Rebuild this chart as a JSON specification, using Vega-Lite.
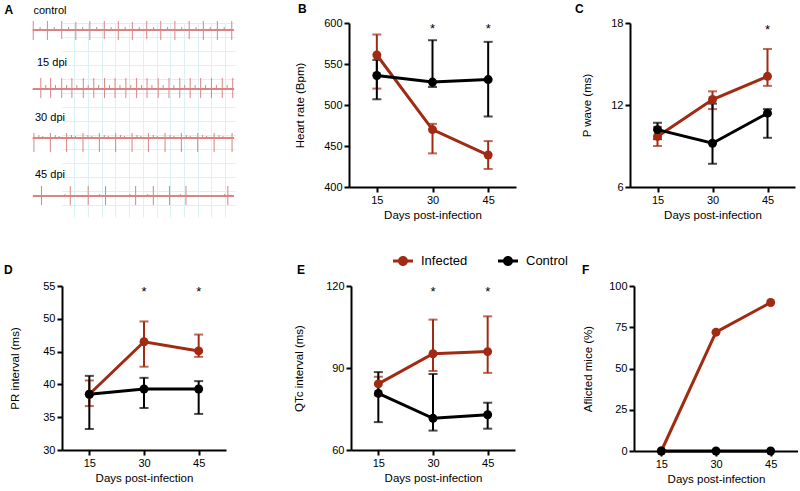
{
  "$schema": "https://vega.github.io/schema/vega-lite/v6.json",
  "padding": {"left": 4, "top": 3, "right": 0, "bottom": 0},
  "background": "white",
  "config": {
    "font": "Liberation Sans",
    "view": {"stroke": null},
    "axis": {"labelFontSize": 11, "titleFontSize": 11.5, "titleFontWeight": "normal", "labelColor": "black", "titleColor": "black", "domainColor": "black", "tickColor": "black", "domainWidth": 2, "tickWidth": 2, "tickSize": 5, "grid": false, "labelPadding": 2, "labelFlush": false, "labelOverlap": false},
    "axisX": {"titlePadding": 4},
    "title": {"fontSize": 12, "fontWeight": "bold", "anchor": "start", "frame": "group", "color": "black", "font": "Liberation Sans"}
  },
  "datasets": {
    "stats": [
      {"panel": "B", "group": "Infected", "day": 15, "mean": 561, "lo": 520, "hi": 586},
      {"panel": "B", "group": "Infected", "day": 30, "mean": 470, "lo": 441, "hi": 477},
      {"panel": "B", "group": "Infected", "day": 45, "mean": 439, "lo": 422, "hi": 456},
      {"panel": "B", "group": "Control", "day": 15, "mean": 536, "lo": 507, "hi": 555},
      {"panel": "B", "group": "Control", "day": 30, "mean": 528, "lo": 522, "hi": 579},
      {"panel": "B", "group": "Control", "day": 45, "mean": 531, "lo": 486, "hi": 577},
      {"panel": "C", "group": "Infected", "day": 15, "mean": 9.7, "lo": 9.0, "hi": 10.4},
      {"panel": "C", "group": "Infected", "day": 30, "mean": 12.4, "lo": 11.7, "hi": 13.0},
      {"panel": "C", "group": "Infected", "day": 45, "mean": 14.1, "lo": 13.4, "hi": 16.1},
      {"panel": "C", "group": "Control", "day": 15, "mean": 10.2, "lo": 9.5, "hi": 10.7},
      {"panel": "C", "group": "Control", "day": 30, "mean": 9.2, "lo": 7.7, "hi": 12.1},
      {"panel": "C", "group": "Control", "day": 45, "mean": 11.4, "lo": 9.6, "hi": 11.7},
      {"panel": "D", "group": "Infected", "day": 15, "mean": 38.5, "lo": 36.7, "hi": 40.6},
      {"panel": "D", "group": "Infected", "day": 30, "mean": 46.5, "lo": 42.7, "hi": 49.6},
      {"panel": "D", "group": "Infected", "day": 45, "mean": 45.1, "lo": 44.2, "hi": 47.6},
      {"panel": "D", "group": "Control", "day": 15, "mean": 38.5, "lo": 33.2, "hi": 41.3},
      {"panel": "D", "group": "Control", "day": 30, "mean": 39.3, "lo": 36.4, "hi": 41.0},
      {"panel": "D", "group": "Control", "day": 45, "mean": 39.3, "lo": 35.5, "hi": 40.5},
      {"panel": "E", "group": "Infected", "day": 15, "mean": 84.2, "lo": 80.0, "hi": 86.8},
      {"panel": "E", "group": "Infected", "day": 30, "mean": 95.2, "lo": 88.9, "hi": 107.7},
      {"panel": "E", "group": "Infected", "day": 45, "mean": 96.0, "lo": 88.2, "hi": 108.9},
      {"panel": "E", "group": "Control", "day": 15, "mean": 80.7, "lo": 70.2, "hi": 88.5},
      {"panel": "E", "group": "Control", "day": 30, "mean": 71.6, "lo": 67.1, "hi": 87.8},
      {"panel": "E", "group": "Control", "day": 45, "mean": 72.9, "lo": 67.8, "hi": 77.3},
      {"panel": "F", "group": "Infected", "day": 15, "mean": 0},
      {"panel": "F", "group": "Infected", "day": 30, "mean": 72},
      {"panel": "F", "group": "Infected", "day": 45, "mean": 90},
      {"panel": "F", "group": "Control", "day": 15, "mean": 0},
      {"panel": "F", "group": "Control", "day": 30, "mean": 0},
      {"panel": "F", "group": "Control", "day": 45, "mean": 0}
    ],
    "sig": [
      {"panel": "B", "day": 30, "y": 598},
      {"panel": "B", "day": 45, "y": 598},
      {"panel": "C", "day": 45, "y": 17.8},
      {"panel": "D", "day": 30, "y": 54.7},
      {"panel": "D", "day": 45, "y": 54.7},
      {"panel": "E", "day": 30, "y": 119.3},
      {"panel": "E", "day": 45, "y": 119.3}
    ],
    "ecg": [
      {"trace": "control", "t": 0.3, "lo": -10, "hi": 9}, {"trace": "control", "t": 7.3, "lo": 0, "hi": 3},
      {"trace": "control", "t": 14.7, "lo": -10, "hi": 9}, {"trace": "control", "t": 21.7, "lo": 0, "hi": 3},
      {"trace": "control", "t": 29.3, "lo": -9, "hi": 9}, {"trace": "control", "t": 36.3, "lo": 0, "hi": 3},
      {"trace": "control", "t": 43.7, "lo": -10, "hi": 8}, {"trace": "control", "t": 50.7, "lo": 0, "hi": 3},
      {"trace": "control", "t": 58, "lo": -10, "hi": 9}, {"trace": "control", "t": 65, "lo": 0, "hi": 3},
      {"trace": "control", "t": 72.7, "lo": -9, "hi": 9}, {"trace": "control", "t": 79.7, "lo": 0, "hi": 3},
      {"trace": "control", "t": 87, "lo": -10, "hi": 9}, {"trace": "control", "t": 94, "lo": 0, "hi": 3},
      {"trace": "control", "t": 101.3, "lo": -10, "hi": 8}, {"trace": "control", "t": 108.3, "lo": 0, "hi": 3},
      {"trace": "control", "t": 116, "lo": -9, "hi": 9}, {"trace": "control", "t": 123, "lo": 0, "hi": 3},
      {"trace": "control", "t": 130.3, "lo": -10, "hi": 9}, {"trace": "control", "t": 137.3, "lo": 0, "hi": 3},
      {"trace": "control", "t": 144.7, "lo": -10, "hi": 9}, {"trace": "control", "t": 151.7, "lo": 0, "hi": 3},
      {"trace": "control", "t": 159.3, "lo": -9, "hi": 9}, {"trace": "control", "t": 166.3, "lo": 0, "hi": 3},
      {"trace": "control", "t": 173.7, "lo": -10, "hi": 9}, {"trace": "control", "t": 180.7, "lo": 0, "hi": 3},
      {"trace": "control", "t": 188, "lo": -10, "hi": 9}, {"trace": "control", "t": 195, "lo": 0, "hi": 3},
      {"trace": "control", "t": 202.7, "lo": -10, "hi": 9},
      {"trace": "15 dpi", "t": 8, "lo": -9, "hi": 11}, {"trace": "15 dpi", "t": 13, "lo": 0, "hi": 4},
      {"trace": "15 dpi", "t": 18, "lo": -9, "hi": 11}, {"trace": "15 dpi", "t": 23, "lo": 0, "hi": 4},
      {"trace": "15 dpi", "t": 29.3, "lo": -9, "hi": 11}, {"trace": "15 dpi", "t": 34.3, "lo": 0, "hi": 4},
      {"trace": "15 dpi", "t": 39.7, "lo": -9, "hi": 11}, {"trace": "15 dpi", "t": 44.7, "lo": 0, "hi": 4},
      {"trace": "15 dpi", "t": 51.3, "lo": -9, "hi": 11}, {"trace": "15 dpi", "t": 56.3, "lo": 0, "hi": 4},
      {"trace": "15 dpi", "t": 62, "lo": -9, "hi": 11}, {"trace": "15 dpi", "t": 67, "lo": 0, "hi": 4},
      {"trace": "15 dpi", "t": 73, "lo": -9, "hi": 11}, {"trace": "15 dpi", "t": 78, "lo": 0, "hi": 4},
      {"trace": "15 dpi", "t": 83.7, "lo": -9, "hi": 11}, {"trace": "15 dpi", "t": 88.7, "lo": 0, "hi": 4},
      {"trace": "15 dpi", "t": 94.7, "lo": -9, "hi": 11}, {"trace": "15 dpi", "t": 99.7, "lo": 0, "hi": 4},
      {"trace": "15 dpi", "t": 105.7, "lo": -9, "hi": 11}, {"trace": "15 dpi", "t": 110.7, "lo": 0, "hi": 4},
      {"trace": "15 dpi", "t": 116.3, "lo": -9, "hi": 11}, {"trace": "15 dpi", "t": 121.3, "lo": 0, "hi": 4},
      {"trace": "15 dpi", "t": 127.7, "lo": -9, "hi": 11}, {"trace": "15 dpi", "t": 132.7, "lo": 0, "hi": 4},
      {"trace": "15 dpi", "t": 138.7, "lo": -9, "hi": 11}, {"trace": "15 dpi", "t": 143.7, "lo": 0, "hi": 4},
      {"trace": "15 dpi", "t": 149.7, "lo": -9, "hi": 11}, {"trace": "15 dpi", "t": 154.7, "lo": 0, "hi": 4},
      {"trace": "15 dpi", "t": 160.3, "lo": -9, "hi": 11}, {"trace": "15 dpi", "t": 165.3, "lo": 0, "hi": 4},
      {"trace": "15 dpi", "t": 171, "lo": -9, "hi": 11}, {"trace": "15 dpi", "t": 176, "lo": 0, "hi": 4},
      {"trace": "15 dpi", "t": 182, "lo": -9, "hi": 11}, {"trace": "15 dpi", "t": 187, "lo": 0, "hi": 4},
      {"trace": "15 dpi", "t": 193, "lo": -9, "hi": 11}, {"trace": "15 dpi", "t": 198, "lo": 0, "hi": 4},
      {"trace": "15 dpi", "t": 203.7, "lo": -9, "hi": 11},
      {"trace": "30 dpi", "t": 1, "lo": -14, "hi": 5}, {"trace": "30 dpi", "t": 6, "lo": 0, "hi": 3}, {"trace": "30 dpi", "t": 10, "lo": 0, "hi": 2},
      {"trace": "30 dpi", "t": 17.7, "lo": -14, "hi": 5}, {"trace": "30 dpi", "t": 22.7, "lo": 0, "hi": 3}, {"trace": "30 dpi", "t": 26.7, "lo": 0, "hi": 2},
      {"trace": "30 dpi", "t": 34.3, "lo": -14, "hi": 5}, {"trace": "30 dpi", "t": 39.3, "lo": 0, "hi": 3}, {"trace": "30 dpi", "t": 43.3, "lo": 0, "hi": 2},
      {"trace": "30 dpi", "t": 51, "lo": -14, "hi": 5}, {"trace": "30 dpi", "t": 56, "lo": 0, "hi": 3}, {"trace": "30 dpi", "t": 60, "lo": 0, "hi": 2},
      {"trace": "30 dpi", "t": 67.7, "lo": -14, "hi": 5}, {"trace": "30 dpi", "t": 72.7, "lo": 0, "hi": 3}, {"trace": "30 dpi", "t": 76.7, "lo": 0, "hi": 2},
      {"trace": "30 dpi", "t": 84.3, "lo": -14, "hi": 5}, {"trace": "30 dpi", "t": 89.3, "lo": 0, "hi": 3}, {"trace": "30 dpi", "t": 93.3, "lo": 0, "hi": 2},
      {"trace": "30 dpi", "t": 101, "lo": -14, "hi": 5}, {"trace": "30 dpi", "t": 106, "lo": 0, "hi": 3}, {"trace": "30 dpi", "t": 110, "lo": 0, "hi": 2},
      {"trace": "30 dpi", "t": 117.7, "lo": -14, "hi": 5}, {"trace": "30 dpi", "t": 122.7, "lo": 0, "hi": 3}, {"trace": "30 dpi", "t": 126.7, "lo": 0, "hi": 2},
      {"trace": "30 dpi", "t": 134.7, "lo": -14, "hi": 5}, {"trace": "30 dpi", "t": 139.7, "lo": 0, "hi": 3}, {"trace": "30 dpi", "t": 143.7, "lo": 0, "hi": 2},
      {"trace": "30 dpi", "t": 151.3, "lo": -14, "hi": 5}, {"trace": "30 dpi", "t": 156.3, "lo": 0, "hi": 3}, {"trace": "30 dpi", "t": 160.3, "lo": 0, "hi": 2},
      {"trace": "30 dpi", "t": 168, "lo": -14, "hi": 5}, {"trace": "30 dpi", "t": 173, "lo": 0, "hi": 3}, {"trace": "30 dpi", "t": 177, "lo": 0, "hi": 2},
      {"trace": "30 dpi", "t": 184.7, "lo": -14, "hi": 5}, {"trace": "30 dpi", "t": 189.7, "lo": 0, "hi": 3}, {"trace": "30 dpi", "t": 193.7, "lo": 0, "hi": 2},
      {"trace": "30 dpi", "t": 203, "lo": -14, "hi": 5},
      {"trace": "45 dpi", "t": 8.7, "lo": -9, "hi": 10},
      {"trace": "45 dpi", "t": 32.7, "lo": 0, "hi": 2},
      {"trace": "45 dpi", "t": 38, "lo": -9, "hi": 10},
      {"trace": "45 dpi", "t": 56.3, "lo": -9, "hi": 10},
      {"trace": "45 dpi", "t": 68, "lo": 0, "hi": 2},
      {"trace": "45 dpi", "t": 74, "lo": -9, "hi": 10},
      {"trace": "45 dpi", "t": 98.7, "lo": 0, "hi": 2},
      {"trace": "45 dpi", "t": 104.7, "lo": -9, "hi": 10},
      {"trace": "45 dpi", "t": 117, "lo": 0, "hi": 2},
      {"trace": "45 dpi", "t": 122.7, "lo": -9, "hi": 10},
      {"trace": "45 dpi", "t": 139.3, "lo": -9, "hi": 10},
      {"trace": "45 dpi", "t": 150.3, "lo": 0, "hi": 2},
      {"trace": "45 dpi", "t": 156, "lo": -9, "hi": 10},
      {"trace": "45 dpi", "t": 195.3, "lo": 0, "hi": 2},
      {"trace": "45 dpi", "t": 198.7, "lo": -9, "hi": 10}
    ]
  },
  "columns": 1,
  "align": "none",
  "bounds": "full",
  "spacing": 43,
  "concat": [
    {
      "bounds": "full",
      "spacing": 59,
      "hconcat": [
        {
          "bounds": "flush",
          "spacing": 0,
          "vconcat": [
            {
              "width": 173, "height": 37,
              "data": {"name": "ecg"},
              "transform": [{"filter": "datum.trace == 'control'"}],
              "layer": [
                {"mark": {"type": "rule", "color": "#d98484", "strokeWidth": 1}, "encoding": {"x": {"datum": 0, "type": "quantitative"}, "x2": {"datum": 205}, "y": {"datum": 0, "type": "quantitative"}}},
                {"mark": {"type": "rule", "color": "#d98484", "strokeWidth": 1},
                 "encoding": {
                   "x": {"field": "t", "type": "quantitative", "scale": {"domain": [29.6, 206], "nice": false, "zero": false}, "axis": {"orient": "top", "values": [42, 56, 70, 84, 98, 112, 126, 140, 154, 168, 182, 196], "tickCount": 40, "grid": true, "gridColor": "#dcf1f3", "domain": false, "ticks": false, "labels": false, "title": "control", "titleX": -29, "titleY": -10, "titleAlign": "left", "titleBaseline": "alphabetic", "titleFontSize": 11, "titlePadding": 0}},
                   "y": {"field": "lo", "type": "quantitative", "scale": {"domain": [-30, 7], "nice": false, "zero": false}, "axis": {"values": [7, -7, -21], "tickCount": 20, "grid": true, "gridColor": "#dcf1f3", "domain": false, "ticks": false, "labels": false, "title": "A", "titleAngle": 0, "titleX": -58, "titleY": -10, "titleAlign": "left", "titleBaseline": "alphabetic", "titleFontWeight": "bold", "titleFontSize": 12, "titlePadding": 0}},
                   "y2": {"field": "hi"}
                 }}
              ]
            },
            {
              "width": 173, "height": 53,
              "title": {"text": "15 dpi", "fontSize": 11, "fontWeight": "normal", "offset": -8, "dx": -25},
              "data": {"name": "ecg"},
              "transform": [{"filter": "datum.trace == '15 dpi'"}],
              "layer": [
                {"mark": {"type": "rule", "color": "#d98484", "strokeWidth": 1}, "encoding": {"x": {"datum": 0, "type": "quantitative"}, "x2": {"datum": 205}, "y": {"datum": 0, "type": "quantitative"}}},
                {"mark": {"type": "rule", "color": "#d98484", "strokeWidth": 1},
                 "encoding": {
                   "x": {"field": "t", "type": "quantitative", "scale": {"domain": [29.6, 206], "nice": false, "zero": false}, "axis": {"values": [42, 56, 70, 84, 98, 112, 126, 140, 154, 168, 182, 196], "tickCount": 40, "grid": true, "gridColor": "#dcf1f3", "domain": false, "ticks": false, "labels": false, "title": null}},
                   "y": {"field": "lo", "type": "quantitative", "scale": {"domain": [-24, 29], "nice": false, "zero": false}, "axis": {"values": [24, 10, -4, -18], "tickCount": 20, "grid": true, "gridColor": "#dcf1f3", "domain": false, "ticks": false, "labels": false, "title": null}},
                   "y2": {"field": "hi"}
                 }}
              ]
            },
            {
              "width": 173, "height": 55,
              "title": {"text": "30 dpi", "fontSize": 11, "fontWeight": "normal", "offset": -10, "dx": -27},
              "data": {"name": "ecg"},
              "transform": [{"filter": "datum.trace == '30 dpi'"}],
              "layer": [
                {"mark": {"type": "rule", "color": "#d98484", "strokeWidth": 1}, "encoding": {"x": {"datum": 0, "type": "quantitative"}, "x2": {"datum": 205}, "y": {"datum": 0, "type": "quantitative"}}},
                {"mark": {"type": "rule", "color": "#d98484", "strokeWidth": 1},
                 "encoding": {
                   "x": {"field": "t", "type": "quantitative", "scale": {"domain": [29.6, 206], "nice": false, "zero": false}, "axis": {"values": [42, 56, 70, 84, 98, 112, 126, 140, 154, 168, 182, 196], "tickCount": 40, "grid": true, "gridColor": "#dcf1f3", "domain": false, "ticks": false, "labels": false, "title": null}},
                   "y": {"field": "lo", "type": "quantitative", "scale": {"domain": [-30, 25], "nice": false, "zero": false}, "axis": {"values": [17, 3, -11, -25], "tickCount": 20, "grid": true, "gridColor": "#dcf1f3", "domain": false, "ticks": false, "labels": false, "title": null}},
                   "y2": {"field": "hi"}
                 }}
              ]
            },
            {
              "width": 173, "height": 49,
              "title": {"text": "45 dpi", "fontSize": 11, "fontWeight": "normal", "offset": -12, "dx": -27},
              "data": {"name": "ecg"},
              "transform": [{"filter": "datum.trace == '45 dpi'"}],
              "layer": [
                {"mark": {"type": "rule", "color": "#d98484", "strokeWidth": 1}, "encoding": {"x": {"datum": 0, "type": "quantitative"}, "x2": {"datum": 205}, "y": {"datum": 0, "type": "quantitative"}}},
                {"mark": {"type": "rule", "color": "#d98484", "strokeWidth": 1},
                 "encoding": {
                   "x": {"field": "t", "type": "quantitative", "scale": {"domain": [29.6, 206], "nice": false, "zero": false}, "axis": {"values": [42, 56, 70, 84, 98, 112, 126, 140, 154, 168, 182, 196], "tickCount": 40, "grid": true, "gridColor": "#dcf1f3", "domain": false, "ticks": false, "labels": false, "title": null}},
                   "y": {"field": "lo", "type": "quantitative", "scale": {"domain": [-21, 28], "nice": false, "zero": false}, "axis": {"values": [19, 5, -9], "tickCount": 20, "grid": true, "gridColor": "#dcf1f3", "domain": false, "ticks": false, "labels": false, "title": null}},
                   "y2": {"field": "hi"}
                 }}
              ]
            }
          ]
        },
        {
          "width": 167, "height": 164,
          "title": {"text": "B", "dx": -51, "offset": 1},
          "layer": [
            {"data": {"name": "stats"}, "transform": [{"filter": "datum.panel == 'B'"}],
             "mark": {"type": "errorbar", "ticks": {"size": 9, "thickness": 2}, "rule": {"strokeWidth": 2}},
             "encoding": {
               "x": {"field": "day", "type": "quantitative", "scale": {"domain": [7.5, 52.5], "nice": false, "zero": false}, "axis": {"values": [15, 30, 45], "title": "Days post-infection"}},
               "y": {"field": "lo", "type": "quantitative", "scale": {"domain": [400, 600], "nice": false, "zero": false}, "axis": {"values": [400, 450, 500, 550, 600], "titlePadding": 18}, "title": "Heart rate (Bpm)"},
               "y2": {"field": "hi"},
               "color": {"field": "group", "type": "nominal", "scale": {"domain": ["Infected", "Control"], "range": ["#a12b12", "#000000"]}}
             }},
            {"data": {"name": "stats"}, "transform": [{"filter": "datum.panel == 'B'"}],
             "mark": {"type": "line", "strokeWidth": 3},
             "encoding": {
               "x": {"field": "day", "type": "quantitative"},
               "y": {"field": "mean", "type": "quantitative", "axis": {"values": [400, 450, 500, 550, 600], "titlePadding": 18}, "title": "Heart rate (Bpm)"},
               "color": {"field": "group", "type": "nominal"}
             }},
            {"data": {"name": "stats"}, "transform": [{"filter": "datum.panel == 'B'"}],
             "mark": {"type": "point", "filled": true, "size": 80, "opacity": 1},
             "encoding": {
               "x": {"field": "day", "type": "quantitative"},
               "y": {"field": "mean", "type": "quantitative", "axis": {"values": [400, 450, 500, 550, 600], "titlePadding": 18}, "title": "Heart rate (Bpm)"},
               "color": {"field": "group", "type": "nominal"}
             }},
            {"data": {"name": "sig"}, "transform": [{"filter": "datum.panel == 'B'"}],
             "mark": {"type": "text", "text": "*", "fontSize": 13, "dy": 4, "color": "black"},
             "encoding": {
               "x": {"field": "day", "type": "quantitative"},
               "y": {"field": "y", "type": "quantitative", "axis": {"values": [400, 450, 500, 550, 600], "titlePadding": 18}, "title": "Heart rate (Bpm)"}
             }}
          ]
        },
        {
          "width": 165, "height": 164,
          "title": {"text": "C", "dx": -55, "offset": 1},
          "layer": [
            {"data": {"name": "stats"}, "transform": [{"filter": "datum.panel == 'C'"}],
             "mark": {"type": "errorbar", "ticks": {"size": 9, "thickness": 2}, "rule": {"strokeWidth": 2}},
             "encoding": {
               "x": {"field": "day", "type": "quantitative", "scale": {"domain": [7.5, 52.5], "nice": false, "zero": false}, "axis": {"values": [15, 30, 45], "title": "Days post-infection"}},
               "y": {"field": "lo", "type": "quantitative", "scale": {"domain": [6, 18], "nice": false, "zero": false}, "axis": {"values": [6, 12, 18], "titlePadding": 18}, "title": "P wave (ms)"},
               "y2": {"field": "hi"},
               "color": {"field": "group", "type": "nominal"}
             }},
            {"data": {"name": "stats"}, "transform": [{"filter": "datum.panel == 'C'"}],
             "mark": {"type": "line", "strokeWidth": 3},
             "encoding": {
               "x": {"field": "day", "type": "quantitative"},
               "y": {"field": "mean", "type": "quantitative", "axis": {"values": [6, 12, 18], "titlePadding": 18}, "title": "P wave (ms)"},
               "color": {"field": "group", "type": "nominal"}
             }},
            {"data": {"name": "stats"}, "transform": [{"filter": "datum.panel == 'C'"}],
             "mark": {"type": "point", "filled": true, "size": 80, "opacity": 1},
             "encoding": {
               "x": {"field": "day", "type": "quantitative"},
               "y": {"field": "mean", "type": "quantitative", "axis": {"values": [6, 12, 18], "titlePadding": 18}, "title": "P wave (ms)"},
               "color": {"field": "group", "type": "nominal"}
             }},
            {"data": {"name": "sig"}, "transform": [{"filter": "datum.panel == 'C'"}],
             "mark": {"type": "text", "text": "*", "fontSize": 13, "dy": 4, "color": "black"},
             "encoding": {
               "x": {"field": "day", "type": "quantitative"},
               "y": {"field": "y", "type": "quantitative", "axis": {"values": [6, 12, 18], "titlePadding": 18}, "title": "P wave (ms)"}
             }}
          ]
        }
      ]
    },
    {
      "bounds": "full",
      "spacing": 67,
      "hconcat": [
        {
          "width": 164, "height": 164,
          "title": {"text": "D", "dx": -58, "offset": 3},
          "layer": [
            {"data": {"name": "stats"}, "transform": [{"filter": "datum.panel == 'D'"}],
             "mark": {"type": "errorbar", "ticks": {"size": 9, "thickness": 2}, "rule": {"strokeWidth": 2}},
             "encoding": {
               "x": {"field": "day", "type": "quantitative", "scale": {"domain": [7.5, 52.5], "nice": false, "zero": false}, "axis": {"values": [15, 30, 45], "title": "Days post-infection"}},
               "y": {"field": "lo", "type": "quantitative", "scale": {"domain": [30, 55], "nice": false, "zero": false}, "axis": {"values": [30, 35, 40, 45, 50, 55], "titlePadding": 22}, "title": "PR interval (ms)"},
               "y2": {"field": "hi"},
               "color": {"field": "group", "type": "nominal"}
             }},
            {"data": {"name": "stats"}, "transform": [{"filter": "datum.panel == 'D'"}],
             "mark": {"type": "line", "strokeWidth": 3},
             "encoding": {
               "x": {"field": "day", "type": "quantitative"},
               "y": {"field": "mean", "type": "quantitative", "axis": {"values": [30, 35, 40, 45, 50, 55], "titlePadding": 22}, "title": "PR interval (ms)"},
               "color": {"field": "group", "type": "nominal"}
             }},
            {"data": {"name": "stats"}, "transform": [{"filter": "datum.panel == 'D'"}],
             "mark": {"type": "point", "filled": true, "size": 80, "opacity": 1},
             "encoding": {
               "x": {"field": "day", "type": "quantitative"},
               "y": {"field": "mean", "type": "quantitative", "axis": {"values": [30, 35, 40, 45, 50, 55], "titlePadding": 22}, "title": "PR interval (ms)"},
               "color": {"field": "group", "type": "nominal"}
             }},
            {"data": {"name": "sig"}, "transform": [{"filter": "datum.panel == 'D'"}],
             "mark": {"type": "text", "text": "*", "fontSize": 13, "dy": 4, "color": "black"},
             "encoding": {
               "x": {"field": "day", "type": "quantitative"},
               "y": {"field": "y", "type": "quantitative", "axis": {"values": [30, 35, 40, 45, 50, 55], "titlePadding": 22}, "title": "PR interval (ms)"}
             }}
          ]
        },
        {
          "width": 164, "height": 164,
          "title": {"text": "E", "dx": -54, "offset": 3},
          "layer": [
            {"data": {"name": "stats"}, "transform": [{"filter": "datum.panel == 'E'"}],
             "mark": {"type": "errorbar", "ticks": {"size": 9, "thickness": 2}, "rule": {"strokeWidth": 2}},
             "encoding": {
               "x": {"field": "day", "type": "quantitative", "scale": {"domain": [7.5, 52.5], "nice": false, "zero": false}, "axis": {"values": [15, 30, 45], "title": "Days post-infection"}},
               "y": {"field": "lo", "type": "quantitative", "scale": {"domain": [60, 120], "nice": false, "zero": false}, "axis": {"values": [60, 90, 120], "titlePadding": 21}, "title": "QTc interval (ms)"},
               "y2": {"field": "hi"},
               "color": {"field": "group", "type": "nominal"}
             }},
            {"data": {"name": "stats"}, "transform": [{"filter": "datum.panel == 'E'"}],
             "mark": {"type": "line", "strokeWidth": 3},
             "encoding": {
               "x": {"field": "day", "type": "quantitative"},
               "y": {"field": "mean", "type": "quantitative", "axis": {"values": [60, 90, 120], "titlePadding": 21}, "title": "QTc interval (ms)"},
               "color": {"field": "group", "type": "nominal"}
             }},
            {"data": {"name": "stats"}, "transform": [{"filter": "datum.panel == 'E'"}],
             "mark": {"type": "point", "filled": true, "size": 80, "opacity": 1},
             "encoding": {
               "x": {"field": "day", "type": "quantitative"},
               "y": {"field": "mean", "type": "quantitative", "axis": {"values": [60, 90, 120], "titlePadding": 21}, "title": "QTc interval (ms)"},
               "color": {"field": "group", "type": "nominal", "legend": {"orient": "none", "legendX": 331, "legendY": 228, "direction": "horizontal", "title": null, "symbolType": "M -1 -0.15 H 1 V 0.15 H -1 Z M 0.5 0 A 0.5 0.5 0 1 1 -0.5 0 A 0.5 0.5 0 1 1 0.5 0 Z", "symbolSize": 400, "symbolStrokeWidth": 0, "symbolOpacity": 1, "labelFontSize": 13, "labelColor": "black", "labelOffset": 8, "columnPadding": 30, "encode": {"symbols": {"update": {"opacity": {"value": 1}, "fillOpacity": {"value": 1}, "strokeOpacity": {"value": 1}}}}}}
             }},
            {"data": {"name": "sig"}, "transform": [{"filter": "datum.panel == 'E'"}],
             "mark": {"type": "text", "text": "*", "fontSize": 13, "dy": 4, "color": "black"},
             "encoding": {
               "x": {"field": "day", "type": "quantitative"},
               "y": {"field": "y", "type": "quantitative", "axis": {"values": [60, 90, 120], "titlePadding": 21}, "title": "QTc interval (ms)"}
             }}
          ]
        },
        {
          "width": 164, "height": 165,
          "title": {"text": "F", "dx": -52, "offset": 3},
          "layer": [
            {"data": {"name": "stats"}, "transform": [{"filter": "datum.panel == 'F'"}],
             "mark": {"type": "line", "strokeWidth": 3},
             "encoding": {
               "x": {"field": "day", "type": "quantitative", "scale": {"domain": [7.5, 52.5], "nice": false, "zero": false}, "axis": {"values": [15, 30, 45], "title": "Days post-infection"}},
               "y": {"field": "mean", "type": "quantitative", "scale": {"domain": [0, 100], "nice": false}, "axis": {"values": [0, 25, 50, 75, 100], "titlePadding": 15}, "title": "Aflicted mice (%)"},
               "color": {"field": "group", "type": "nominal"}
             }},
            {"data": {"name": "stats"}, "transform": [{"filter": "datum.panel == 'F'"}],
             "mark": {"type": "point", "filled": true, "size": 80, "opacity": 1},
             "encoding": {
               "x": {"field": "day", "type": "quantitative"},
               "y": {"field": "mean", "type": "quantitative", "axis": {"values": [0, 25, 50, 75, 100], "titlePadding": 15}, "title": "Aflicted mice (%)"},
               "color": {"field": "group", "type": "nominal"}
             }}
          ]
        }
      ]
    }
  ]
}
